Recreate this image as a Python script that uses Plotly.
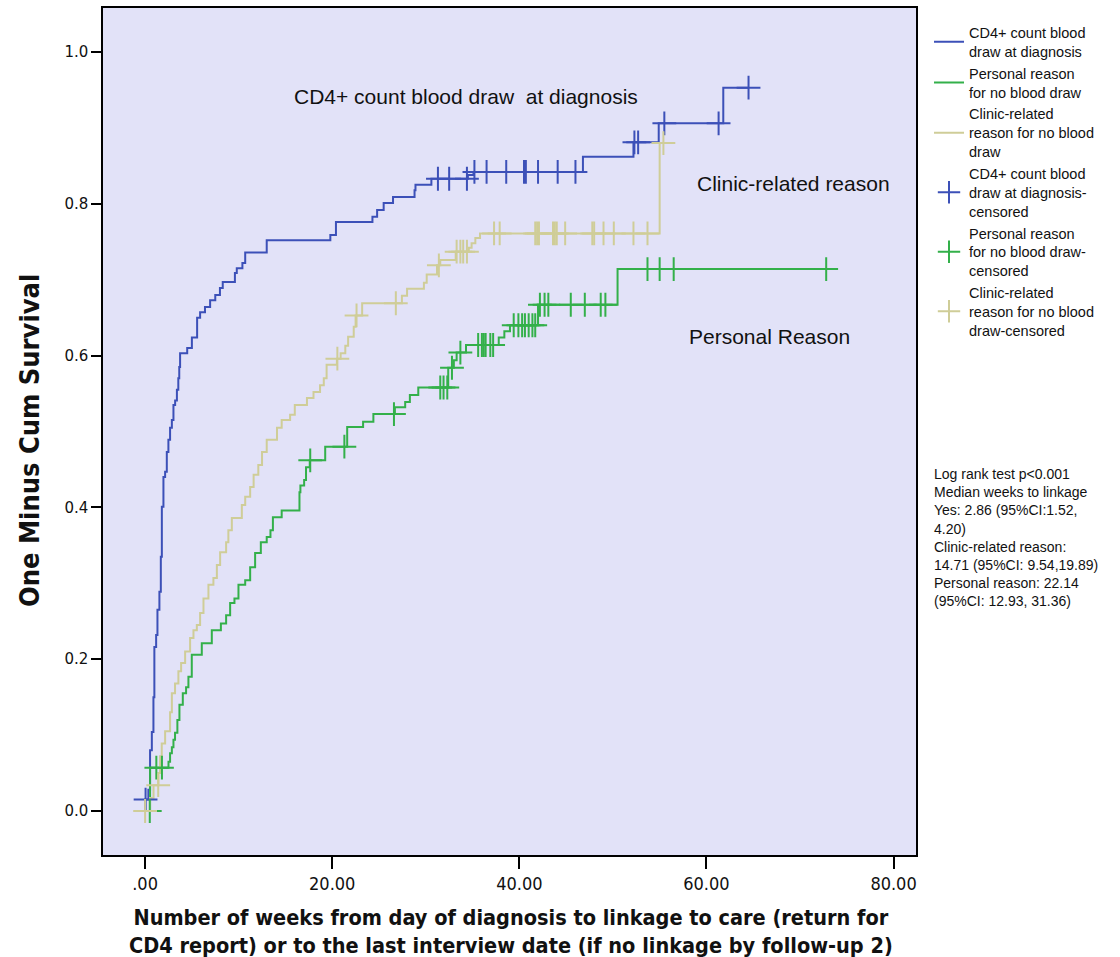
import numpy as np
import plotly.graph_objects as go

# ---------------- data ----------------
# CD4+ count blood draw at diagnosis: step times (weeks) and 1 - survival
blue_t = [0, 0.02, 0.35, 0.53, 0.72, 0.89, 0.99, 1.18, 1.32, 1.53, 1.68, 1.79, 1.96, 2.14, 2.32,
          2.49, 2.67, 2.86, 3.03, 3.21, 3.40, 3.55, 3.65, 3.74, 4.5, 5.0, 5.56, 5.88, 6.4, 6.95,
          7.5, 8.0, 8.3, 9.6, 9.8, 10.4, 10.7, 13.0, 19.8, 20.4, 24.3, 24.8, 25.5, 26.5, 28.8,
          28.9, 30.6, 34.5, 35.1, 46.8, 52.2, 54.9, 61.8]
blue_y = [0, 0.015, 0.028, 0.080, 0.104, 0.150, 0.216, 0.232, 0.265, 0.289, 0.335, 0.401, 0.440,
          0.447, 0.473, 0.489, 0.505, 0.515, 0.535, 0.541, 0.555, 0.570, 0.585, 0.603, 0.610,
          0.624, 0.650, 0.657, 0.664, 0.673, 0.680, 0.689, 0.697, 0.709, 0.715, 0.722, 0.736,
          0.752, 0.759, 0.776, 0.783, 0.792, 0.801, 0.809, 0.818, 0.825, 0.833, 0.838, 0.842,
          0.862, 0.881, 0.906, 0.953]
blue_cens = [0.05, 31.3, 32.5, 34.4, 35.2, 36.5, 38.6, 40.5, 40.7, 42.0, 44.1, 46.0, 52.3, 52.7,
             55.5, 61.3, 64.5]

# Personal reason for no blood draw
green_t = [0, 0.53, 2.5, 2.67, 2.86, 3.03, 3.2, 3.45, 3.67, 4.03, 4.38, 4.63, 4.99, 6.06, 7.13,
           8.1, 8.66, 9.09, 9.55, 9.98, 10.7, 11.23, 11.76, 12.37, 13.0, 13.4, 13.66, 14.6, 16.5,
           16.6, 17.0, 17.2, 17.6, 19.25, 21.6, 23.3, 24.4, 26.7, 27.8, 28.3, 29.2, 32.4, 33.0,
           33.3, 34.3, 37.8, 38.4, 39.0, 42.0, 50.5]
green_y = [0, 0.057, 0.065, 0.076, 0.084, 0.094, 0.103, 0.120, 0.140, 0.155, 0.163, 0.177, 0.206,
           0.221, 0.238, 0.247, 0.258, 0.274, 0.280, 0.298, 0.304, 0.321, 0.340, 0.354, 0.361,
           0.370, 0.387, 0.396, 0.420, 0.429, 0.436, 0.453, 0.462, 0.480, 0.506, 0.513, 0.523,
           0.532, 0.539, 0.548, 0.558, 0.584, 0.594, 0.604, 0.614, 0.624, 0.632, 0.640, 0.667,
           0.714]
green_cens = [0.5, 1.2, 1.8, 17.65, 21.3, 26.6, 31.55, 31.9, 32.3, 32.8, 33.7, 35.6, 36.0, 36.2,
              36.4, 36.9, 37.2, 39.4, 39.9, 40.3, 40.6, 41.0, 41.4, 41.7, 42.2, 42.7, 43.1, 45.5,
              47.0, 48.7, 49.2, 53.7, 55.0, 56.5, 72.8]

# Clinic-related reason for no blood draw
tan_t = [0, 0.53, 0.9, 1.42, 1.6, 1.78, 2.14, 2.67, 2.86, 3.2, 3.56, 3.85, 4.28, 4.81, 5.17,
         5.53, 5.88, 6.24, 6.77, 7.3, 7.67, 8.02, 8.66, 8.9, 9.27, 10.34, 10.7, 11.23, 11.6,
         12.1, 12.5, 13.0, 14.1, 14.6, 15.5, 16.0, 17.3, 18.0, 18.7, 19.1, 19.4, 20.5, 20.9,
         21.4, 21.7, 22.3, 22.5, 23.2, 27.45, 28.0, 29.8, 30.1, 31.2, 31.55, 33.2, 34.6, 34.9,
         35.3, 35.8, 55.0]
tan_y = [0, 0.017, 0.034, 0.050, 0.072, 0.089, 0.105, 0.130, 0.155, 0.168, 0.184, 0.195, 0.210,
         0.228, 0.238, 0.245, 0.261, 0.280, 0.298, 0.307, 0.324, 0.341, 0.354, 0.370, 0.386,
         0.403, 0.414, 0.427, 0.443, 0.456, 0.473, 0.489, 0.505, 0.515, 0.522, 0.535, 0.544,
         0.552, 0.561, 0.570, 0.588, 0.596, 0.603, 0.613, 0.625, 0.638, 0.653, 0.669, 0.679,
         0.688, 0.696, 0.707, 0.719, 0.726, 0.737, 0.742, 0.748, 0.755, 0.761, 0.880]
tan_cens = [0.0, 1.4, 20.55, 22.6, 26.8, 31.4, 33.3, 33.7, 34.0, 34.4, 37.3, 37.9, 41.7, 41.9,
            42.1, 43.6, 43.8, 44.0, 44.9, 47.8, 48.0, 49.0, 50.1, 52.2, 53.7, 55.4]

series_names = ["CD4+ count blood<br>draw at diagnosis",
                "Personal reason<br>for no blood draw",
                "Clinic-related<br>reason for no blood<br>draw"]
cens_names = ["CD4+ count blood<br>draw at diagnosis-<br>censored",
              "Personal reason<br>for no blood draw-<br>censored",
              "Clinic-related<br>reason for no blood<br>draw-censored"]

x_ticks = [0, 20, 40, 60, 80]
x_ticktext = [".00", "20.00", "40.00", "60.00", "80.00"]
y_ticks = [0.0, 0.2, 0.4, 0.6, 0.8, 1.0]
y_ticktext = ["0.0", "0.2", "0.4", "0.6", "0.8", "1.0"]

x_title = ("<b>Number of weeks from day of diagnosis to linkage to care (return for<br>"
           "CD4 report) or to the last interview date (if no linkage by follow-up 2)</b>")
y_title = "<b>One Minus Cum Survival</b>"

stats_text = ("Log rank test p<0.001<br>Median weeks to linkage<br>Yes: 2.86 (95%CI:1.52,<br>"
              "4.20)<br>Clinic-related reason:<br>14.71 (95%CI: 9.54,19.89)<br>"
              "Personal reason: 22.14<br>(95%CI: 12.93, 31.36)")

# ---------------- styling ----------------
BLUE = "#3c50b8"
GREEN = "#33b04a"
TAN = "#cfcd98"
BG = "#e2e2f8"
NARROW = "Liberation Sans Narrow, Arial Narrow, DejaVu Sans Condensed, Liberation Sans, Arial"
SANS = "Liberation Sans, Arial, sans-serif"


def step_xy(t, y, cens):
    """Step line extended to the last censored time."""
    t = list(t)
    y = list(y)
    last = max(cens)
    if last > t[-1]:
        t.append(last)
        y.append(y[-1])
    return t, y


def cens_levels(t, y, cens):
    t = np.asarray(t)
    y = np.asarray(y)
    idx = np.searchsorted(t, np.asarray(cens), side="right") - 1
    idx = np.clip(idx, 0, len(y) - 1)
    return y[idx]


fig = go.Figure()
groups = [(blue_t, blue_y, blue_cens, BLUE),
          (green_t, green_y, green_cens, GREEN),
          (tan_t, tan_y, tan_cens, TAN)]

for (t, y, c, col), name in zip(groups, series_names):
    xs, ys = step_xy(t, y, c)
    fig.add_trace(go.Scatter(x=xs, y=ys, mode="lines", line=dict(color=col, width=2, shape="hv"),
                             name=name, hoverinfo="skip"))

for (t, y, c, col), name in zip(groups, cens_names):
    fig.add_trace(go.Scatter(x=c, y=cens_levels(t, y, c), mode="markers",
                             marker=dict(symbol="cross-thin", size=17, color=col,
                                         line=dict(color=col, width=2)),
                             name=name, hoverinfo="skip"))

fig.add_annotation(x=34.3, y=0.941, xref="x", yref="y", text="CD4+ count blood draw  at diagnosis",
                   showarrow=False, font=dict(family=SANS, size=21, color="#111111"))
fig.add_annotation(x=69.3, y=0.827, xref="x", yref="y", text="Clinic-related reason",
                   showarrow=False, font=dict(family=SANS, size=21, color="#111111"))
fig.add_annotation(x=66.7, y=0.625, xref="x", yref="y", text="Personal Reason",
                   showarrow=False, font=dict(family=SANS, size=21, color="#111111"))
fig.add_annotation(x=1.02, y=0.462, xref="paper", yref="paper", text=stats_text,
                   showarrow=False, xanchor="left", yanchor="top", align="left",
                   font=dict(family=SANS, size=14, color="#111111"))
# axis titles
fig.add_annotation(x=0.502, y=-0.0905, xref="paper", yref="paper", text=x_title,
                   showarrow=False, xanchor="center", yanchor="middle", align="center",
                   font=dict(family=NARROW, size=21.5, color="#111111"))
fig.add_annotation(x=-0.0898, y=0.49, xref="paper", yref="paper", text=y_title,
                   showarrow=False, xanchor="center", yanchor="middle", textangle=-90,
                   font=dict(family=NARROW, size=27, color="#111111"))

fig.update_layout(
    width=1120, height=957,
    margin=dict(l=103, r=204, t=8, b=102, autoexpand=False),
    paper_bgcolor="white",
    plot_bgcolor=BG,
    showlegend=True,
    legend=dict(x=1.016, y=0.99, xanchor="left", yanchor="top",
                font=dict(family=SANS, size=14.5, color="#111111"),
                bgcolor="rgba(0,0,0,0)", tracegroupgap=0, itemwidth=30),
    xaxis=dict(range=[-4.5, 82.4], tickvals=x_ticks, ticktext=x_ticktext, automargin=False,
               showgrid=False, zeroline=False, showline=True, mirror=True,
               linecolor="black", linewidth=1.5, ticks="outside", ticklen=12, tickwidth=2,
               tickcolor="black",
               tickfont=dict(family=NARROW, size=18, color="#111111")),
    yaxis=dict(range=[-0.058, 1.058], tickvals=y_ticks, ticktext=y_ticktext, automargin=False,
               showgrid=False, zeroline=False, showline=True, mirror=True,
               linecolor="black", linewidth=1.5, ticks="outside", ticklen=10, tickwidth=2,
               tickcolor="black",
               tickfont=dict(family="DejaVu Sans, Verdana, sans-serif", size=15, color="#111111")),
)

fig.write_html("out.html",
               config={"displayModeBar": False},
               post_script="document.body.style.margin='0';document.body.style.padding='0';"
                           "document.body.style.overflow='hidden';")
